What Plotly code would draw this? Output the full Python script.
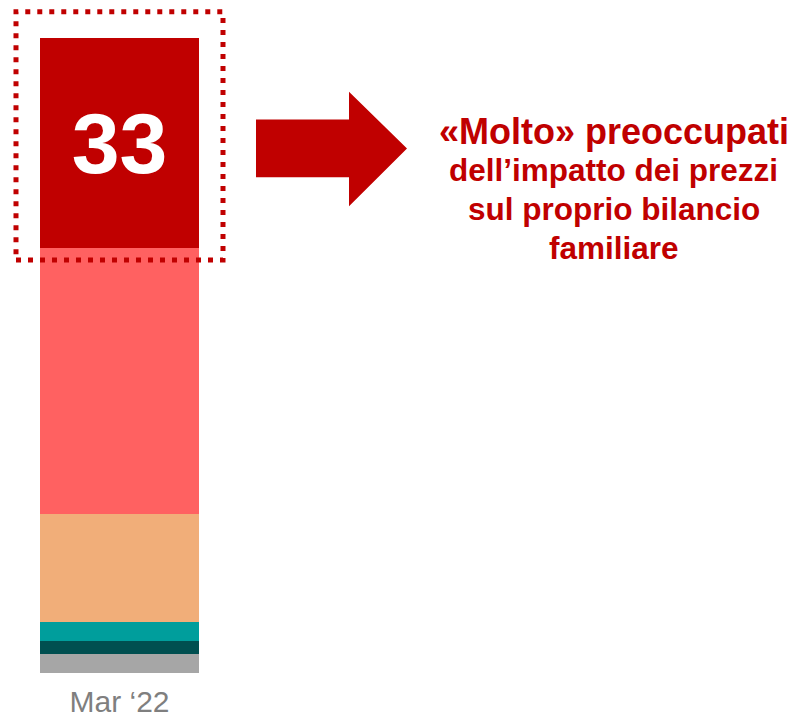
import plotly.graph_objects as go

# ---- data ----
categories = ["Mar \u201822"]
series_names = ["Non sa", "Per niente", "Poco", "Abbastanza", "Abbastanza preoccupati", "Molto preoccupati"]
series_values = [[3], [2], [3], [17], [42], [33]]
series_colors = ["#A6A6A6", "#004F50", "#009E9C", "#F1AE79", "#FF6161", "#C00000"]
highlight_index = 5  # series whose value is printed inside the bar

callout_lines = [
    "\u00abMolto\u00bb preoccupati",
    "dell\u2019impatto dei prezzi",
    "sul proprio bilancio",
    "familiare",
]

FONT = "Liberation Sans, Arial, sans-serif"
RED = "#C00000"

fig = go.Figure()
for i, (name, vals, col) in enumerate(zip(series_names, series_values, series_colors)):
    show_text = i == highlight_index
    fig.add_trace(go.Bar(
        x=categories,
        y=vals,
        name=name,
        marker=dict(color=col, line=dict(width=0)),
        width=1,
        text=[str(v) for v in vals] if show_text else None,
        textposition="inside" if show_text else "none",
        insidetextanchor="middle",
        textfont=dict(family=FONT, size=86, color="white", weight="bold"),
        constraintext="none",
        hoverinfo="name+y",
        showlegend=False,
    ))

shapes = []
# dotted highlight box around the top segment
shapes.append(dict(
    type="rect", xref="paper", yref="paper",
    x0=0.0101, x1=0.27146, y0=0.6505, y1=1.0415,
    line=dict(color=RED, width=5, dash="5px,7px"),
    fillcolor="rgba(0,0,0,0)", layer="above",
))
# block arrow
shapes.append(dict(
    type="path", xref="paper", yref="paper",
    path="M 0.31313 0.87147 L 0.43056 0.87147 L 0.43056 0.91536 L 0.50379 0.82602 "
         "L 0.43056 0.73511 L 0.43056 0.78056 L 0.31313 0.78056 Z",
    fillcolor=RED, line=dict(width=0),
))

annotations = []
line_y = [0.852, 0.7915, 0.7304, 0.6693]
line_size = [36, 31.5, 31.5, 31.5]
for txt, yy, sz in zip(callout_lines, line_y, line_size):
    annotations.append(dict(
        text=txt, xref="paper", yref="paper", x=0.76515, y=yy,
        xanchor="center", yanchor="middle", showarrow=False,
        font=dict(family=FONT, size=sz, color=RED, weight="bold"),
    ))

fig.update_layout(
    width=792, height=710,
    margin=dict(l=0, r=0, t=30, b=42),
    barmode="stack",
    bargap=0,
    plot_bgcolor="white", paper_bgcolor="white",
    xaxis=dict(
        type="category", range=[-0.7013, 4.2798],
        showgrid=False, zeroline=False, showline=False, ticks="",
        tickfont=dict(family=FONT, size=30, color="#7F7F7F"),
        ticklabelstandoff=8,
        fixedrange=True,
    ),
    yaxis=dict(
        range=[0, 100], visible=False, showgrid=False, zeroline=False,
        fixedrange=True,
    ),
    shapes=shapes,
    annotations=annotations,
)

fig.write_html("out.html")
